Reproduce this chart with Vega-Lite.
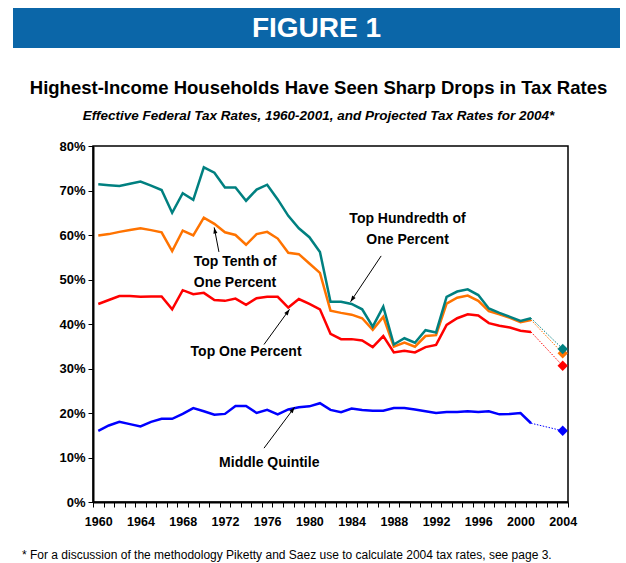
{
  "$schema": "https://vega.github.io/schema/vega-lite/v6.json",
  "background": "white",
  "padding": {"left": 13, "top": 8, "right": 0, "bottom": 0},
  "spacing": 30,
  "datasets": {
    "rates": [
      {"year": 1960, "mid": 16.0, "p1": 44.5, "p01": 59.9, "p001": 71.4},
      {"year": 1961, "mid": 17.2, "p1": 45.4, "p01": 60.2, "p001": 71.2},
      {"year": 1962, "mid": 18.0, "p1": 46.3, "p01": 60.7, "p001": 71.0},
      {"year": 1963, "mid": 17.5, "p1": 46.3, "p01": 61.1, "p001": 71.5},
      {"year": 1964, "mid": 17.0, "p1": 46.1, "p01": 61.5, "p001": 72.0},
      {"year": 1965, "mid": 18.0, "p1": 46.2, "p01": 61.1, "p001": 71.1},
      {"year": 1966, "mid": 18.7, "p1": 46.2, "p01": 60.6, "p001": 70.1},
      {"year": 1967, "mid": 18.7, "p1": 43.3, "p01": 56.4, "p001": 65.0},
      {"year": 1968, "mid": 19.8, "p1": 47.6, "p01": 61.0, "p001": 69.4},
      {"year": 1969, "mid": 21.1, "p1": 46.7, "p01": 59.9, "p001": 67.9},
      {"year": 1970, "mid": 20.4, "p1": 47.0, "p01": 63.9, "p001": 75.2},
      {"year": 1971, "mid": 19.6, "p1": 45.4, "p01": 62.5, "p001": 74.0},
      {"year": 1972, "mid": 19.8, "p1": 45.2, "p01": 60.6, "p001": 70.7},
      {"year": 1973, "mid": 21.6, "p1": 45.7, "p01": 60.0, "p001": 70.7},
      {"year": 1974, "mid": 21.6, "p1": 44.3, "p01": 57.8, "p001": 67.7},
      {"year": 1975, "mid": 20.0, "p1": 45.8, "p01": 60.2, "p001": 70.2},
      {"year": 1976, "mid": 20.7, "p1": 46.1, "p01": 60.7, "p001": 71.3},
      {"year": 1977, "mid": 19.7, "p1": 46.1, "p01": 59.2, "p001": 68.0},
      {"year": 1978, "mid": 20.8, "p1": 43.7, "p01": 56.0, "p001": 64.3},
      {"year": 1979, "mid": 21.3, "p1": 45.6, "p01": 55.7, "p001": 61.5},
      {"year": 1980, "mid": 21.5, "p1": 44.5, "p01": 53.6, "p001": 59.5},
      {"year": 1981, "mid": 22.2, "p1": 43.3, "p01": 51.5, "p001": 56.2},
      {"year": 1982, "mid": 20.7, "p1": 37.8, "p01": 43.0, "p001": 45.0},
      {"year": 1983, "mid": 20.2, "p1": 36.6, "p01": 42.5, "p001": 45.0},
      {"year": 1984, "mid": 21.0, "p1": 36.6, "p01": 42.1, "p001": 44.5},
      {"year": 1985, "mid": 20.7, "p1": 36.3, "p01": 41.3, "p001": 43.3},
      {"year": 1986, "mid": 20.5, "p1": 34.8, "p01": 38.7, "p001": 39.4},
      {"year": 1987, "mid": 20.5, "p1": 37.3, "p01": 41.6, "p001": 43.9},
      {"year": 1988, "mid": 21.1, "p1": 33.6, "p01": 34.9, "p001": 35.4},
      {"year": 1989, "mid": 21.1, "p1": 34.0, "p01": 35.8, "p001": 36.8},
      {"year": 1990, "mid": 20.8, "p1": 33.6, "p01": 34.9, "p001": 35.8},
      {"year": 1991, "mid": 20.4, "p1": 34.8, "p01": 37.3, "p001": 38.6},
      {"year": 1992, "mid": 20.0, "p1": 35.3, "p01": 37.5, "p001": 38.1},
      {"year": 1993, "mid": 20.2, "p1": 39.8, "p01": 44.6, "p001": 46.1},
      {"year": 1994, "mid": 20.2, "p1": 41.3, "p01": 45.9, "p001": 47.3},
      {"year": 1995, "mid": 20.4, "p1": 42.2, "p01": 46.4, "p001": 47.8},
      {"year": 1996, "mid": 20.2, "p1": 41.9, "p01": 45.2, "p001": 46.5},
      {"year": 1997, "mid": 20.4, "p1": 40.2, "p01": 42.9, "p001": 43.5},
      {"year": 1998, "mid": 19.7, "p1": 39.6, "p01": 42.2, "p001": 42.5},
      {"year": 1999, "mid": 19.8, "p1": 39.2, "p01": 41.4, "p001": 41.6},
      {"year": 2000, "mid": 20.0, "p1": 38.5, "p01": 40.4, "p001": 40.7},
      {"year": 2001, "mid": 17.7, "p1": 38.2, "p01": 40.9, "p001": 41.3},
      {"year": 2004, "mid": 16.0, "p1": 30.6, "p01": 33.4, "p001": 34.4}
    ],
    "header": [{"t": "FIGURE 1"}],
    "blank": [{"t": ""}],
    "notes": [
      {"label": "Top Hundredth of\nOne Percent", "year": 1989.3, "rate": 63.5},
      {"label": "Top Tenth of\nOne Percent", "year": 1972.95, "rate": 54.0},
      {"label": "Top One Percent", "year": 1974.0, "rate": 33.6},
      {"label": "Middle Quintile", "year": 1976.2, "rate": 8.8}
    ],
    "arrows": [
      {"arrow": "p001", "year": 1986.8, "rate": 55.3, "year2": 1983.9, "rate2": 45.0},
      {"arrow": "p01", "year": 1971.43, "rate": 56.2, "year2": 1970.98, "rate2": 61.7},
      {"arrow": "p1", "year": 1975.7, "rate": 35.4, "year2": 1978.12, "rate2": 43.3},
      {"arrow": "mid", "year": 1975.7, "rate": 12.1, "year2": 1978.6, "rate2": 21.3}
    ]
  },
  "title": {
    "text": "* For a discussion of the methodology Piketty and Saez use to calculate 2004 tax rates, see page 3.",
    "orient": "bottom",
    "anchor": "start",
    "frame": "bounds",
    "font": "Liberation Sans",
    "fontSize": 12,
    "fontWeight": "normal",
    "color": "black",
    "offset": 22,
    "dx": 9
  },
  "vconcat": [
    {
      "width": 607,
      "height": 40,
      "view": {"fill": "#0B66A8", "stroke": null},
      "data": {"name": "header"},
      "mark": {"type": "text", "color": "white", "font": "Liberation Sans", "fontWeight": "bold", "fontSize": 28, "baseline": "middle", "dy": 1},
      "encoding": {"text": {"field": "t", "type": "nominal"}}
    },
    {
      "spacing": 0,
      "hconcat": [
        {
          "width": 1,
          "height": 1,
          "view": {"stroke": null},
          "data": {"name": "blank"},
          "mark": {"type": "text", "fontSize": 1},
          "encoding": {"text": {"field": "t", "type": "nominal"}}
        },
        {
          "width": 475,
          "height": 356,
          "view": {"stroke": "black", "strokeWidth": 1.5},
          "title": {
            "text": "Highest-Income Households Have Seen Sharp Drops in Tax Rates",
            "subtitle": "Effective Federal Tax Rates, 1960-2001, and Projected Tax Rates for 2004*",
            "anchor": "middle",
            "frame": "group",
            "dx": -12,
            "font": "Liberation Sans",
            "fontSize": 18.5,
            "fontWeight": "bold",
            "color": "black",
            "subtitleFont": "Liberation Sans",
            "subtitleFontSize": 13.5,
            "subtitleFontWeight": "bold",
            "subtitleFontStyle": "italic",
            "subtitleColor": "black",
            "subtitlePadding": 11,
            "offset": 18
          },
          "data": {"name": "rates"},
          "transform": [
            {"fold": ["mid", "p1", "p01", "p001"], "as": ["series", "rate"]}
          ],
          "encoding": {
            "x": {
              "field": "year", "type": "quantitative",
              "scale": {"domain": [1959.5, 2004.5], "nice": false, "zero": false},
              "axis": {
                "values": [1959.5, 1960.5, 1961.5, 1962.5, 1963.5, 1964.5, 1965.5, 1966.5, 1967.5, 1968.5, 1969.5, 1970.5, 1971.5, 1972.5, 1973.5, 1974.5, 1975.5, 1976.5, 1977.5, 1978.5, 1979.5, 1980.5, 1981.5, 1982.5, 1983.5, 1984.5, 1985.5, 1986.5, 1987.5, 1988.5, 1989.5, 1990.5, 1991.5, 1992.5, 1993.5, 1994.5, 1995.5, 1996.5, 1997.5, 1998.5, 1999.5, 2000.5, 2001.5, 2002.5, 2003.5, 2004.5],
                "labelExpr": "(datum.value + 0.5) % 4 == 0 ? format(datum.value + 0.5, 'd') : ''",
                "labelOffset": 5.28,
                "labelOverlap": false,
                "labelFlush": false,
                "labelBound": false,
                "labelFont": "Liberation Sans",
                "labelFontWeight": "bold",
                "labelFontSize": 12.5,
                "labelColor": "black",
                "labelPadding": 8,
                "tickSize": 5,
                "tickColor": "black",
                "domainColor": "black",
                "domainWidth": 2,
                "grid": false,
                "title": null
              }
            },
            "y": {
              "field": "rate", "type": "quantitative",
              "scale": {"domain": [0, 80], "nice": false},
              "axis": {
                "values": [0, 10, 20, 30, 40, 50, 60, 70, 80],
                "labelExpr": "datum.value + '%'",
                "labelFont": "Liberation Sans",
                "labelFontWeight": "bold",
                "labelFontSize": 13,
                "labelColor": "black",
                "labelPadding": 3,
                "tickSize": 5,
                "tickColor": "black",
                "domainColor": "black",
                "domainWidth": 2,
                "grid": false,
                "title": "x",
                "titleOpacity": 0,
                "titleFontSize": 2,
                "titleAngle": 0,
                "titleX": -78,
                "titleY": 0,
                "titleAlign": "left",
                "titleBaseline": "top"
              }
            }
          },
          "layer": [
            {
              "transform": [{"filter": "datum.year <= 2001"}],
              "mark": {"type": "line", "strokeWidth": 2.5},
              "encoding": {
                "color": {"field": "series", "type": "nominal", "scale": {"domain": ["mid", "p1", "p01", "p001"], "range": ["#0000FF", "#FF0000", "#FF7300", "#008080"]}, "legend": null}
              }
            },
            {
              "transform": [{"filter": "datum.year >= 2001"}],
              "mark": {"type": "line", "strokeWidth": 1, "strokeDash": [1.5, 1.5]},
              "encoding": {
                "color": {"field": "series", "type": "nominal", "legend": null}
              }
            },
            {
              "transform": [{"filter": "datum.year == 2004"}],
              "mark": {"type": "point", "shape": "diamond", "filled": true, "size": 110, "opacity": 1},
              "encoding": {
                "color": {"field": "series", "type": "nominal", "legend": null}
              }
            },
            {
              "data": {"name": "arrows"},
              "mark": {"type": "rule", "color": "black", "strokeWidth": 1},
              "encoding": {
                "x2": {"field": "year2"},
                "y2": {"field": "rate2"}
              }
            },
            {
              "data": {"name": "arrows"},
              "mark": {"type": "point", "shape": "M0,0L-0.65,1.9L0.65,1.9Z", "filled": true, "color": "black", "size": 40, "opacity": 1},
              "encoding": {
                "x": {"field": "year2", "type": "quantitative"},
                "y": {"field": "rate2", "type": "quantitative"},
                "angle": {"field": "arrow", "type": "nominal", "scale": {"type": "ordinal", "domain": ["p001", "p01", "p1", "mid"], "range": [213.9, 348.3, 36.2, 36.7]}, "legend": null}
              }
            },
            {
              "data": {"name": "notes"},
              "mark": {"type": "text", "font": "Liberation Sans", "fontWeight": "bold", "fontSize": 14, "lineHeight": 21, "lineBreak": "\n", "align": "center", "baseline": "middle", "color": "black"},
              "encoding": {"text": {"field": "label", "type": "nominal"}}
            }
          ]
        }
      ]
    }
  ]
}
